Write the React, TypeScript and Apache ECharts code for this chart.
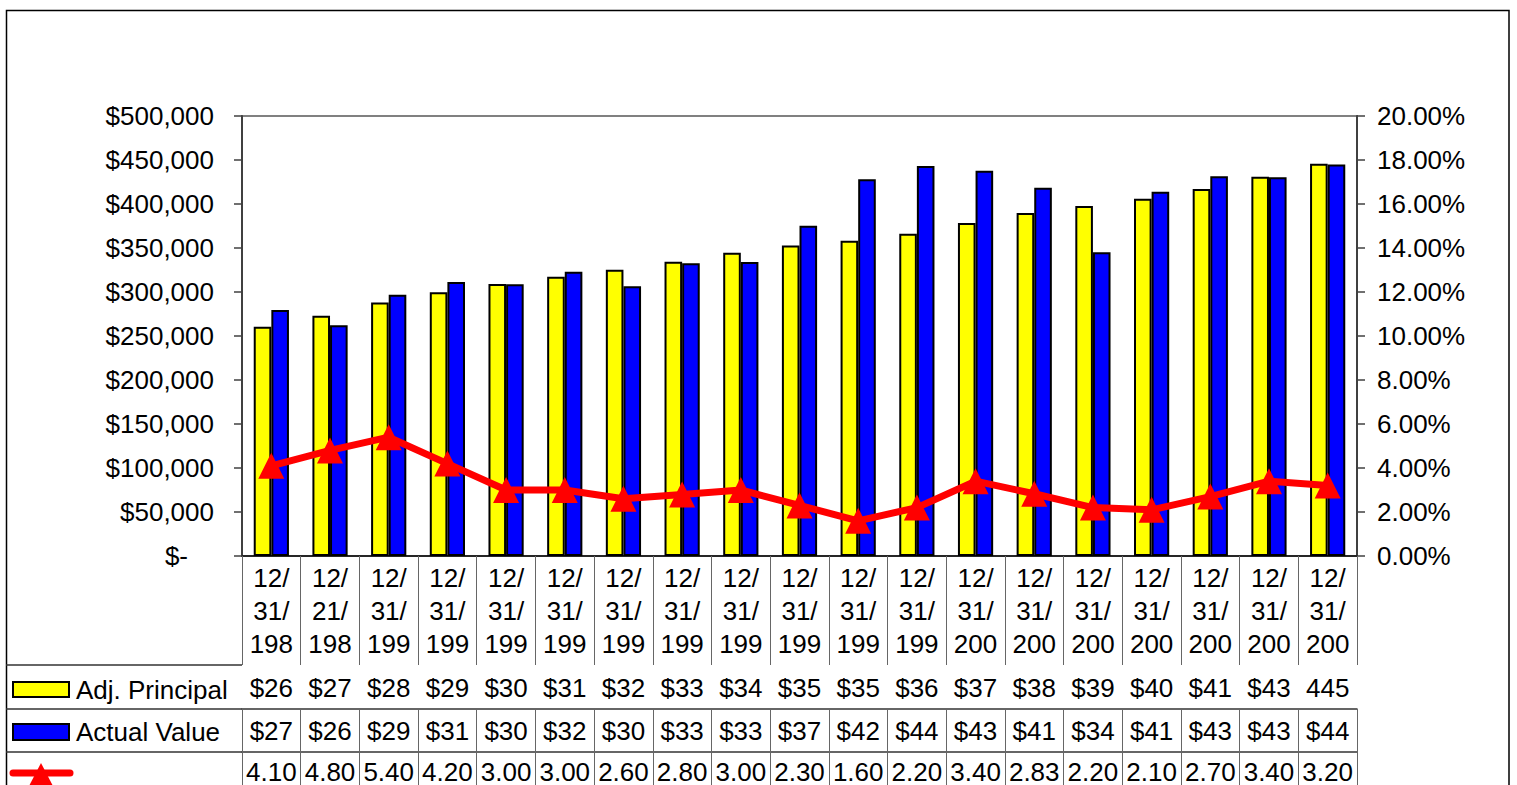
import React, { useEffect, useRef } from "react";
import * as echarts from "echarts";

const categories = [
  "12/31/198", "12/21/198", "12/31/199", "12/31/199", "12/31/199", "12/31/199",
  "12/31/199", "12/31/199", "12/31/199", "12/31/199", "12/31/199", "12/31/199",
  "12/31/200", "12/31/200", "12/31/200", "12/31/200", "12/31/200", "12/31/200", "12/31/200",
];
const adjPrincipal = [
  260500, 273000, 288000, 299600, 309200, 317400, 325400, 334500, 344700, 352700,
  358300, 366300, 378400, 389800, 397700, 406100, 417000, 431000, 445800,
];
const actualValue = [
  279500, 262100, 297000, 311400, 308800, 323100, 306400, 332600, 334100, 375400,
  428000, 443200, 437900, 418600, 345100, 414000, 431400, 430300, 445000,
];
const rates = [4.1, 4.8, 5.4, 4.2, 3.0, 3.0, 2.6, 2.8, 3.0, 2.3, 1.6, 2.2, 3.4, 2.83, 2.2, 2.1, 2.7, 3.4, 3.2];
const adjPrincipalCells = [
  "$26", "$27", "$28", "$29", "$30", "$31", "$32", "$33", "$34", "$35",
  "$35", "$36", "$37", "$38", "$39", "$40", "$41", "$43", "445",
];
const actualValueCells = [
  "$27", "$26", "$29", "$31", "$30", "$32", "$30", "$33", "$33", "$37",
  "$42", "$44", "$43", "$41", "$34", "$41", "$43", "$43", "$44",
];
const seriesNames = ["Adj. Principal", "Actual Value", ""];

const FONT = "'Liberation Sans', Arial, sans-serif";

export default function App() {
  const ref = useRef<HTMLDivElement>(null);
  useEffect(() => {
    if (!ref.current) return;
    const chart = echarts.init(ref.current, null, { renderer: "svg" });
    const tableAxis = (data: string[], offset: number, len: number, margin: number) => ({
      type: "category",
      data,
      position: "bottom",
      offset,
      boundaryGap: true,
      axisLine: { show: true, lineStyle: { color: "#333", width: 1.5 } },
      axisTick: { show: true, interval: 0, length: len, lineStyle: { color: "#666", width: 1 } },
      axisLabel: {
        interval: 0,
        margin,
        color: "#000",
        fontSize: 26,
        fontFamily: FONT,
        lineHeight: 26,
      },
      splitLine: { show: false },
    });
    const option: any = {
      animation: false,
      backgroundColor: "#fff",
      grid: {
        left: 242,
        right: 160,
        top: 116,
        bottom: 229,
        containLabel: false,
        outerBoundsMode: "none",
        show: true,
        borderColor: "#808080",
        borderWidth: 2,
        backgroundColor: "transparent",
      },
      xAxis: [
        {
          type: "category",
          data: categories,
          position: "bottom",
          boundaryGap: true,
          axisLine: { show: true, lineStyle: { color: "#000", width: 2 } },
          axisTick: { show: true, interval: 0, length: 109, lineStyle: { color: "#666", width: 1 } },
          axisLabel: {
            interval: 0,
            margin: 5,
            color: "#000",
            fontSize: 26,
            fontFamily: FONT,
            lineHeight: 33,
            formatter: (v: string) => v.replace(/\//g, "/\n"),
          },
        },
        tableAxis(adjPrincipalCells, 109, 44, 10),
        tableAxis(actualValueCells, 153, 43, 9),
        tableAxis(rates.map((r) => r.toFixed(2)), 196, 40, 7),
      ],
      yAxis: [
        {
          type: "value",
          min: 0,
          max: 500000,
          interval: 50000,
          position: "left",
          axisLine: { show: true, lineStyle: { color: "#404040", width: 2 } },
          axisTick: { show: true, length: 8, lineStyle: { color: "#404040", width: 1.5 } },
          splitLine: { show: false },
          axisLabel: {
            margin: 28,
            color: "#000",
            fontSize: 26,
            fontFamily: FONT,
            formatter: (v: number) => (v === 0 ? "{z|$-}" : "$" + v.toLocaleString("en-US")),
            rich: { z: { fontSize: 26, fontFamily: FONT, color: "#000", padding: [0, 26, 0, 0] } },
          },
        },
        {
          type: "value",
          min: 0,
          max: 20,
          interval: 2,
          position: "right",
          axisLine: { show: true, lineStyle: { color: "#404040", width: 2 } },
          axisTick: { show: true, length: 8, lineStyle: { color: "#404040", width: 1.5 } },
          splitLine: { show: false },
          axisLabel: {
            margin: 20,
            color: "#000",
            fontSize: 26,
            fontFamily: FONT,
            formatter: (v: number) => v.toFixed(2) + "%",
          },
        },
      ],
      series: [
        {
          name: seriesNames[0],
          type: "bar",
          data: adjPrincipal,
          barWidth: "30%",
          barGap: "0%",
          itemStyle: { color: "#FFFF00", borderColor: "#000", borderWidth: 2 },
        },
        {
          name: seriesNames[1],
          type: "bar",
          data: actualValue,
          barWidth: "30%",
          barGap: "0%",
          itemStyle: { color: "#0000FF", borderColor: "#000", borderWidth: 2 },
        },
        {
          name: "Rate",
          type: "line",
          yAxisIndex: 1,
          data: rates,
          symbol: "triangle",
          symbolSize: 26,
          lineStyle: { color: "#FF0000", width: 7 },
          itemStyle: { color: "#FF0000" },
          z: 5,
        },
      ],
      graphic: [
        {
          type: "rect",
          silent: true,
          shape: { x: 6.5, y: 10.5, width: 1502.5, height: 800 },
          style: { fill: "none", stroke: "#000", lineWidth: 1.5 },
        },
        { type: "line", silent: true, shape: { x1: 6, y1: 665, x2: 242, y2: 665 }, style: { stroke: "#333", lineWidth: 1.5 } },
        { type: "line", silent: true, shape: { x1: 6, y1: 709, x2: 242, y2: 709 }, style: { stroke: "#333", lineWidth: 1.5 } },
        { type: "line", silent: true, shape: { x1: 6, y1: 752, x2: 242, y2: 752 }, style: { stroke: "#333", lineWidth: 1.5 } },
        {
          type: "rect",
          silent: true,
          shape: { x: 13, y: 682, width: 56, height: 15 },
          style: { fill: "#FFFF00", stroke: "#000", lineWidth: 2 },
        },
        {
          type: "text",
          silent: true,
          x: 76,
          y: 690,
          style: { text: seriesNames[0], fontSize: 26, fontFamily: FONT, fill: "#000", verticalAlign: "middle" },
        },
        {
          type: "rect",
          silent: true,
          shape: { x: 13, y: 724, width: 56, height: 16 },
          style: { fill: "#0000FF", stroke: "#000", lineWidth: 2 },
        },
        {
          type: "text",
          silent: true,
          x: 76,
          y: 732,
          style: { text: seriesNames[1], fontSize: 26, fontFamily: FONT, fill: "#000", verticalAlign: "middle" },
        },
        {
          type: "line",
          silent: true,
          shape: { x1: 13, y1: 773, x2: 70, y2: 773 },
          style: { stroke: "#FF0000", lineWidth: 7, lineCap: "round" },
        },
        {
          type: "polygon",
          silent: true,
          shape: { points: [[41, 763], [54, 788], [28, 788]] },
          style: { fill: "#FF0000" },
        },
      ],
    };
    chart.setOption(option);
    return () => chart.dispose();
  }, []);
  return (
    <div
      ref={ref}
      style={{ position: "absolute", left: 0, top: 0, width: 1517, height: 785, overflow: "hidden", background: "#fff" }}
    />
  );
}
